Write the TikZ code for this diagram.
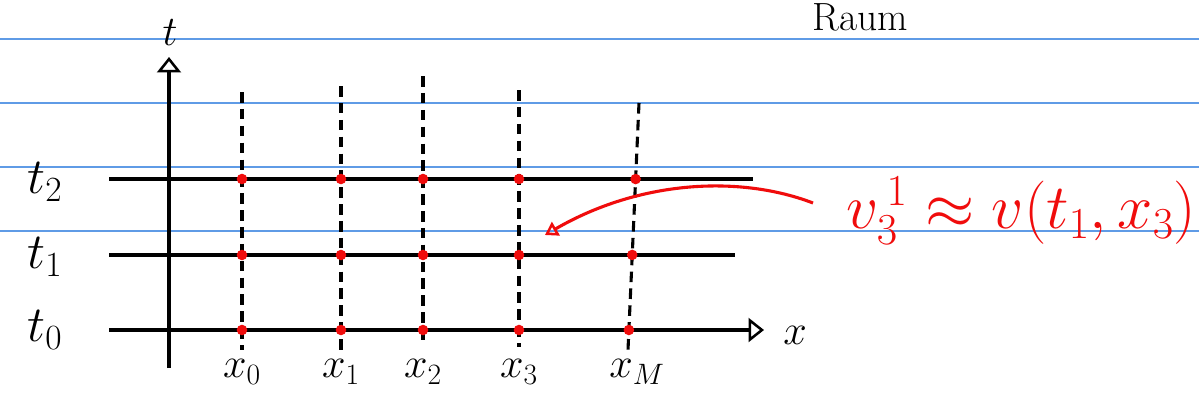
\documentclass[tikz,border=0pt]{standalone}
\usepackage{fix-cm}
\usepackage{amsmath,amssymb}
\usepackage{xcolor}
\usepackage{tikz}
\usetikzlibrary{arrows.meta,calc}
\definecolor{ruleblue}{RGB}{95,155,230}
\definecolor{inkred}{RGB}{240,12,12}
\tikzset{
  axis/.style={-{Triangle[open,length=11pt,width=17pt,line width=1.8pt]}, line width=2.2pt, draw=black},
  every node/.style={anchor=center}
}

\begin{document}
\begin{tikzpicture}[
    x=0.025cm, y=-0.025cm,
    lbl/.style={font=\fontsize{30}{36}\selectfont},
    tlbl/.style={font=\fontsize{36}{42}\selectfont},
    ruled/.style={line width=1pt, draw=ruleblue},
    gridline/.style={line width=2.5pt, draw=black},
    dashline/.style={line width=2.2pt, draw=black, dash pattern=on 7.5pt off 4.5pt},
    dot/.style={circle, fill=inkred, inner sep=0pt, minimum size=7.5pt},
    noteline/.style={-{Triangle[open,length=9pt,width=11pt,line width=1.8pt]}, line width=2.2pt, draw=inkred},
    note/.style={text=inkred, font=\fontsize{45}{52}\selectfont}
  ]
  \useasboundingbox[fill=white] (0,0) rectangle (1199,402);

  % ruled paper
  \foreach \yy in {39,103,167,231}
    \draw[ruled] (0,\yy) -- (1199,\yy);

  % header
  \node[font=\fontsize{28}{32}\selectfont] (raum) at (860,17) {Raum};

  % time levels
  \coordinate (t2a) at (109,179); \coordinate (t2b) at (753,179);
  \coordinate (t1a) at (109,255); \coordinate (t1b) at (735,255);
  \draw[gridline] (t2a) -- (t2b);
  \draw[gridline] (t1a) -- (t1b);

  % axes
  \coordinate (tbot) at (169,368);
  \coordinate (ttop) at (169,57);
  \coordinate (t0a)  at (109,330);
  \coordinate (t0b)  at (764,330);
  \draw[axis] (tbot) -- (ttop);
  \draw[axis, line width=2.5pt] (t0a) -- (t0b);
  \node[lbl] (tlab) at (170,33) {$t$};
  \node[lbl] (xlab) at (795,335) {$x$};

  % space points
  \foreach \n/\xx/\top/\bot in {0/242/92/350, 1/341/86/350, 2/423/76/340, 3/519/90/347} {
    \coordinate (top\n) at (\xx,\top);
    \coordinate (bot\n) at (\xx,\bot);
    \draw[dashline] (top\n) -- (bot\n);
    \node[lbl] (lx\n) at (\xx,372) {$x_\n$};
    \node[dot] (d\n2) at (\xx,179) {};
    \node[dot] (d\n1) at (\xx,255) {};
    \node[dot] (d\n0) at (\xx,330) {};
  }
  \coordinate (topM) at (639,103);
  \coordinate (botM) at (628,350);
  \draw[dashline] (topM) -- (botM);
  \node[lbl] (lxM) at (637,372) {$x_M$};
  \node[dot] (dM2) at ($(topM)!0.308!(botM)$) {};
  \node[dot] (dM1) at ($(topM)!0.615!(botM)$) {};
  \node[dot] (dM0) at ($(topM)!0.919!(botM)$) {};

  % time labels
  \node[tlbl] (lt2) at (45,182) {$t_2$};
  \node[tlbl] (lt1) at (45,257) {$t_1$};
  \node[tlbl] (lt0) at (45,330) {$t_0$};

  % annotation
  \node[note, anchor=west] (approx) at (842,211) {$v_{3}^{\,1} \approx v(t_1,x_3)$};
  \coordinate (curvestart) at (813,203);
  \coordinate (curveend) at (545,235);
  \draw[noteline] (curvestart) .. controls (740,175) and (640,180) .. (curveend);

\end{tikzpicture}
\end{document}
